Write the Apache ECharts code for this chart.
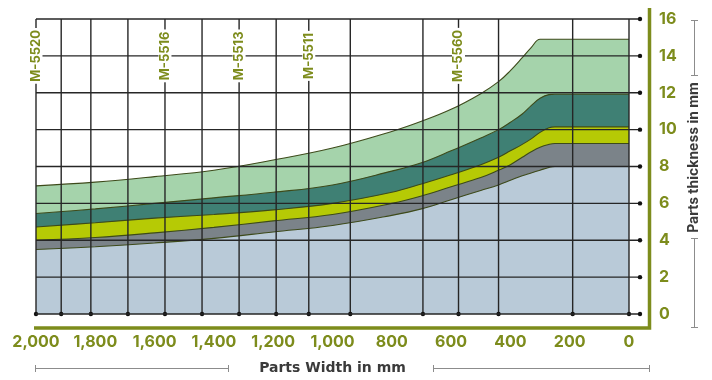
<!DOCTYPE html>
<html>
<head>
<meta charset="utf-8">
<script src="https://cdn.jsdelivr.net/npm/echarts@6/dist/echarts.min.js"></script>
<style>
html,body{margin:0;padding:0;background:#fff;}
#c{width:712px;height:380px;}
</style>
</head>
<body>
<div id="c"></div>
<script>
// ---- data ----
const widths = [2000, 1800, 1600, 1400, 1200, 1000, 800, 700, 600, 500, 440, 400, 360, 330, 300, 270, 250, 0];
const greenTop  = [6.95, 7.15, 7.45, 7.8, 8.35, 9.0, 9.9, 10.45, 11.1, 11.95, 12.6, 13.2, 13.9, 14.45, 14.9, 14.9, 14.9, 14.9];
const tealTop   = [5.45, 5.7, 6.0, 6.3, 6.6, 7.0, 7.75, 8.2, 8.85, 9.55, 10.0, 10.4, 10.85, 11.3, 11.7, 11.9, 11.92, 11.92];
const yellowTop = [4.72, 4.95, 5.2, 5.4, 5.65, 6.0, 6.6, 7.05, 7.55, 8.1, 8.5, 8.85, 9.2, 9.5, 9.85, 10.1, 10.15, 10.15];
const grayTop   = [4.0, 4.15, 4.4, 4.7, 5.05, 5.4, 6.0, 6.4, 6.9, 7.4, 7.8, 8.1, 8.5, 8.8, 9.05, 9.2, 9.25, 9.25];
const blueTop   = [3.5, 3.65, 3.85, 4.1, 4.45, 4.8, 5.35, 5.7, 6.2, 6.7, 7.0, 7.25, 7.5, 7.65, 7.8, 7.95, 8.0, 8.0];
const gridWidths = [2000, 1915, 1815, 1690, 1565, 1440, 1315, 1190, 1080, 940, 695, 575, 440, 190, 0];
const thickTicks = [0, 2, 4, 6, 8, 10, 12, 14, 16];
const machineNames = ['M-5520', 'M-5516', 'M-5513', 'M-5511', 'M-5560'];
const machineWidths = [2000, 1565, 1315, 1080, 575];
const machineLabelAt = 14;
const xName = 'Parts Width in mm';
const yName = 'Parts thickness in mm';

// ---- styles ----
const OLIVE = '#7d8c1c';
const FONT = 'Inter, "DejaVu Sans", sans-serif';
const NAMEFONT = '"DejaVu Sans", sans-serif';
const OUTLINE = '#3d4a1a';
const GRID = '#262626';
const BR = '#8c8c8c';

const chart = echarts.init(document.getElementById('c'), null, {renderer: 'canvas'});

function areaSeries(name, vals, color) {
  return {
    name: name, type: 'line', data: widths.map((w, i) => [w, vals[i]]),
    smooth: 0.4, symbol: 'none', silent: true,
    lineStyle: {color: OUTLINE, width: 1.1},
    areaStyle: {color: color, opacity: 1},
    z: 2
  };
}

function seg(x1, y1, x2, y2) {
  return {type: 'line', shape: {x1: x1, y1: y1, x2: x2, y2: y2}, style: {stroke: BR, lineWidth: 1}};
}

const option = {
  animation: false,
  backgroundColor: '#fff',
  grid: {left: 36, right: 83, top: 19, bottom: 64},
  xAxis: {
    type: 'value', inverse: true, min: 0, max: 2000, interval: 200,
    axisLine: {show: false}, axisTick: {show: false}, splitLine: {show: false},
    axisLabel: {
      color: OLIVE, fontWeight: 'bold', fontSize: 16, fontFamily: FONT, margin: 20,
      formatter: v => v.toLocaleString('en-US')
    },
    name: xName, nameLocation: 'middle', nameGap: 47,
    nameTextStyle: {color: '#3a3a3a', fontWeight: 'bold', fontSize: 14, fontFamily: NAMEFONT}
  },
  yAxis: {
    type: 'value', position: 'right', min: 0, max: 16, interval: 2,
    axisLine: {show: false}, axisTick: {show: false}, splitLine: {show: false},
    axisLabel: {color: OLIVE, fontWeight: 'bold', fontSize: 16, fontFamily: FONT, margin: 30, align: 'left'}
  },
  graphic: [
    {type: 'polyline', shape: {points: [[34, 328], [649.5, 328], [649.5, 8]]},
     style: {stroke: OLIVE, lineWidth: 3.5, fill: null}, z: 10},
    {type: 'text', x: 694, y: 157.5, rotation: Math.PI / 2, z: 10,
     style: {text: yName, fill: '#3a3a3a', font: 'bold 14px ' + FONT, align: 'center', verticalAlign: 'middle'}},
    {type: 'group', z: 10, children: [
      seg(35, 368.5, 228, 368.5), seg(35.5, 365, 35.5, 372), seg(228.5, 365, 228.5, 372),
      seg(433, 368.5, 649, 368.5), seg(433.5, 365, 433.5, 372), seg(649.5, 365, 649.5, 372),
      seg(694.5, 20, 694.5, 76), seg(691, 20.5, 698, 20.5), seg(691, 75.5, 698, 75.5),
      seg(694.5, 238, 694.5, 328), seg(691, 238.5, 698, 238.5), seg(691, 327.5, 698, 327.5)
    ]}
  ],
  series: [
    areaSeries('M-5560', greenTop, '#a5d3ab'),
    areaSeries('M-5516', tealTop, '#3f8074'),
    areaSeries('M-5513', yellowTop, '#b6ca05'),
    areaSeries('M-5511', grayTop, '#7b8389'),
    areaSeries('M-5520', blueTop, '#b9cad8'),
    {
      type: 'custom', z: 5, silent: true,
      data: gridWidths.map(w => [w, 0]),
      renderItem: function (params, api) {
        const w = api.value(0);
        const p0 = api.coord([w, 0]);
        const p1 = api.coord([w, 16]);
        return {type: 'group', children: [
          {type: 'line', shape: {x1: p0[0], y1: p0[1], x2: p1[0], y2: p1[1]}, style: {stroke: GRID, lineWidth: 1.4}},
          {type: 'circle', shape: {cx: p0[0], cy: p0[1], r: 2.2}, style: {fill: '#111'}}
        ]};
      }
    },
    {
      type: 'custom', z: 5, silent: true,
      data: thickTicks.map(t => [0, t]),
      renderItem: function (params, api) {
        const t = api.value(1);
        const p0 = api.coord([2000, t]);
        const p1 = api.coord([0, t]);
        return {type: 'group', children: [
          {type: 'line', shape: {x1: p0[0], y1: p0[1], x2: p1[0] + 11, y2: p1[1]}, style: {stroke: GRID, lineWidth: 1.4}},
          {type: 'circle', shape: {cx: p1[0] + 11, cy: p1[1], r: 2.2}, style: {fill: '#111'}}
        ]};
      }
    },
    {
      type: 'custom', z: 8, silent: true,
      data: machineWidths.map((w, i) => [w, machineLabelAt, i]),
      renderItem: function (params, api) {
        const p = api.coord([api.value(0), api.value(1)]);
        return {
          type: 'text', x: p[0], y: p[1], rotation: Math.PI / 2,
          style: {
            text: machineNames[api.value(2)], fill: OLIVE,
            font: 'bold 13px ' + FONT, align: 'center', verticalAlign: 'middle',
            backgroundColor: '#fff', padding: [0, 2]
          }
        };
      }
    }
  ]
};
chart.setOption(option);
</script>
</body>
</html>
